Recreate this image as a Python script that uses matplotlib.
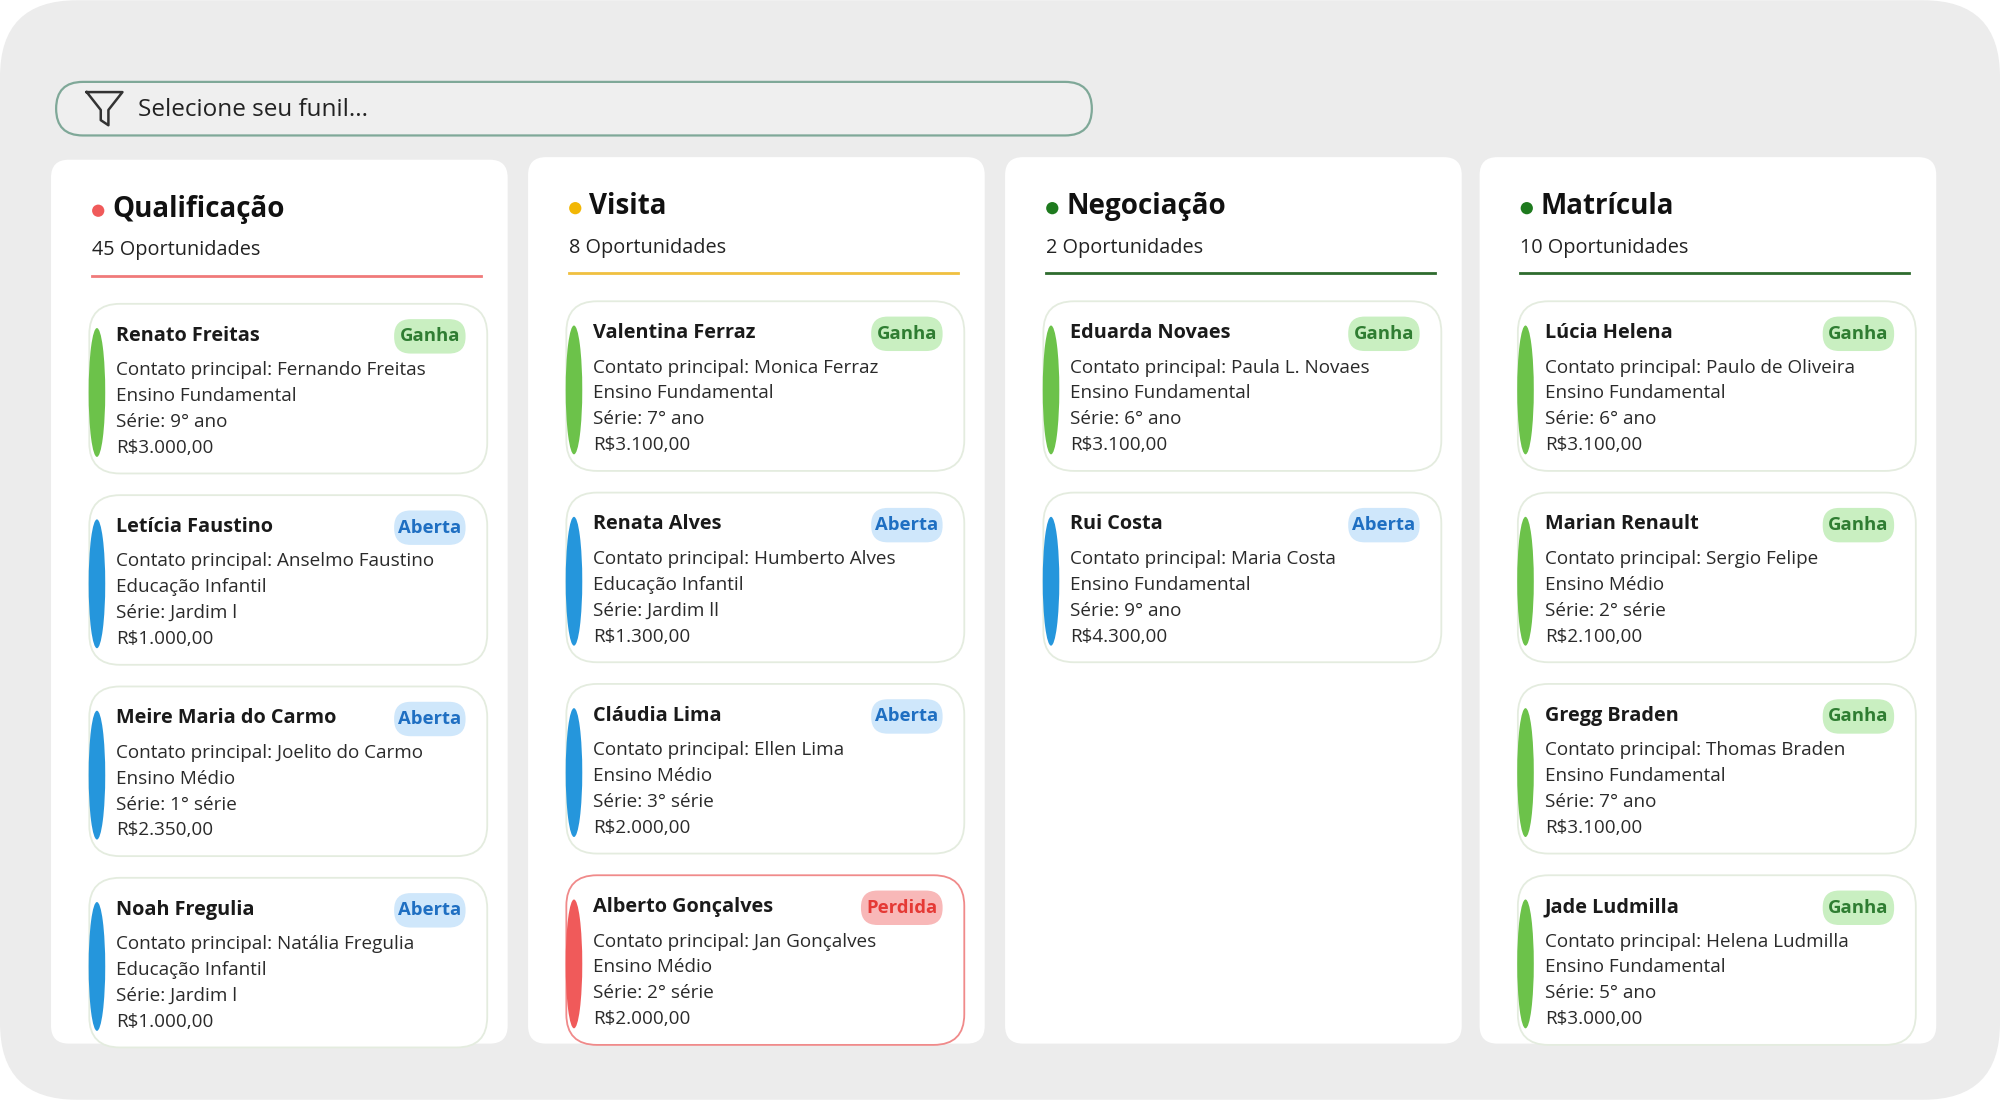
import matplotlib
matplotlib.use("Agg")
import matplotlib.pyplot as plt
from matplotlib.patches import FancyBboxPatch, Ellipse, Circle

plt.rcParams['font.family'] = ['Open Sans', 'DejaVu Sans']

W, H = 1568, 862

GREEN_BAR = "#6cc24a"
BLUE_BAR = "#2596dc"
RED_BAR = "#f05a5a"
BADGES = {
    "Ganha": ("#c9efc1", "#2f7d32", GREEN_BAR),
    "Aberta": ("#cfe7fb", "#1f6fc2", BLUE_BAR),
    "Perdida": ("#f8b8b8", "#e53935", RED_BAR),
}

columns = [
    {"title": "Qualificação", "dot": "#f05a5a", "line": "#f07a7a", "count": "45 Oportunidades",
     "cards": [
         ("Renato Freitas", "Fernando Freitas", "Ensino Fundamental", "9° ano", "R$3.000,00", "Ganha"),
         ("Letícia Faustino", "Anselmo Faustino", "Educação Infantil", "Jardim l", "R$1.000,00", "Aberta"),
         ("Meire Maria do Carmo", "Joelito do Carmo", "Ensino Médio", "1° série", "R$2.350,00", "Aberta"),
         ("Noah Fregulia", "Natália Fregulia", "Educação Infantil", "Jardim l", "R$1.000,00", "Aberta"),
     ]},
    {"title": "Visita", "dot": "#f2b705", "line": "#f0c040", "count": "8 Oportunidades",
     "cards": [
         ("Valentina Ferraz", "Monica Ferraz", "Ensino Fundamental", "7° ano", "R$3.100,00", "Ganha"),
         ("Renata Alves", "Humberto Alves", "Educação Infantil", "Jardim ll", "R$1.300,00", "Aberta"),
         ("Cláudia Lima", "Ellen Lima", "Ensino Médio", "3° série", "R$2.000,00", "Aberta"),
         ("Alberto Gonçalves", "Jan Gonçalves", "Ensino Médio", "2° série", "R$2.000,00", "Perdida"),
     ]},
    {"title": "Negociação", "dot": "#1e7a1e", "line": "#2e6b2e", "count": "2 Oportunidades",
     "cards": [
         ("Eduarda Novaes", "Paula L. Novaes", "Ensino Fundamental", "6° ano", "R$3.100,00", "Ganha"),
         ("Rui Costa", "Maria Costa", "Ensino Fundamental", "9° ano", "R$4.300,00", "Aberta"),
     ]},
    {"title": "Matrícula", "dot": "#1e7a1e", "line": "#2e6b2e", "count": "10 Oportunidades",
     "cards": [
         ("Lúcia Helena", "Paulo de Oliveira", "Ensino Fundamental", "6° ano", "R$3.100,00", "Ganha"),
         ("Marian Renault", "Sergio Felipe", "Ensino Médio", "2° série", "R$2.100,00", "Ganha"),
         ("Gregg Braden", "Thomas Braden", "Ensino Fundamental", "7° ano", "R$3.100,00", "Ganha"),
         ("Jade Ludmilla", "Helena Ludmilla", "Ensino Fundamental", "5° ano", "R$3.000,00", "Ganha"),
     ]},
]


def rbox(ax, x, y, w, h, r, fc, ec="none", lw=1.0, z=1):
    p = FancyBboxPatch((x, y), w, h, boxstyle=f"round,pad=0,rounding_size={r}",
                       fc=fc, ec=ec, lw=lw, zorder=z)
    ax.add_patch(p)


def draw_card(ax, x, y, card):
    name, contato, nivel, serie, valor, status = card
    w, h = 312, 133
    bfc, btc, bar = BADGES[status]
    ec = "#f08a8a" if status == "Perdida" else "#e4ecdf"
    rbox(ax, x, y, w, h, 24, "white", ec, 1.3, 3)
    ax.add_patch(Ellipse((x + 6, y + h / 2 + 3), 13, h - 32, fc=bar, ec="none", zorder=4))
    ax.text(x + 21, y + 25, name, fontsize=14.3, fontweight="bold", color="#1a1a1a",
            va="center", ha="left", zorder=5)
    bw = 56 if status != "Perdida" else 64
    rbox(ax, x + w - 17 - bw, y + 12, bw, 27, 13, bfc, z=4)
    ax.text(x + w - 17 - bw / 2, y + 25.5, status, fontsize=13.3, fontweight="bold",
            color=btc, ha="center", va="center", zorder=5)
    lines = [f"Contato principal: {contato}", nivel, f"Série: {serie}", valor]
    for i, t in enumerate(lines):
        ax.text(x + 21, y + 52 + i * 20.3, t, fontsize=13.6, color="#2a2a2a",
                va="center", ha="left", zorder=5)


fig = plt.figure(figsize=(20, 11), dpi=100)
ax = fig.add_axes([0, 0, 1, 1])
ax.set_xlim(0, W)
ax.set_ylim(H, 0)
ax.set_aspect("equal")
ax.axis("off")

rbox(ax, 0, 0, W, H, 60, "#ececec", z=0)

# search bar
rbox(ax, 44, 64, 812, 42, 21, "#efefef", "#7fa898", 1.6, 1)
fx, fy = 82, 85
ax.plot([fx - 14, fx + 14, fx + 3, fx + 3, fx - 3, fx - 3, fx - 14],
        [fy - 13, fy - 13, fy + 1, fy + 13, fy + 9, fy + 1, fy - 13],
        color="#333333", lw=1.8, zorder=2, solid_joinstyle="round")
ax.text(108, 86, "Selecione seu funil...", fontsize=17.5, color="#222222", va="center", ha="left")

col_x = [40, 414, 788, 1160]
col_top = [125, 123, 123, 123]
for ci, col in enumerate(columns):
    x0 = col_x[ci]
    y0 = col_top[ci]
    rbox(ax, x0, y0, 358, 818 - y0, 14, "white", z=1)
    ty = y0 + 39
    ax.add_patch(Circle((x0 + 37, ty + 1), 4.8, fc=col["dot"], ec="none", zorder=3))
    ax.text(x0 + 48, ty, col["title"], fontsize=20, fontweight="bold", color="#111111",
            va="center", ha="left", zorder=3)
    ax.text(x0 + 32, ty + 32, col["count"], fontsize=14.3, color="#222222", va="center",
            ha="left", zorder=3)
    ax.plot([x0 + 32, x0 + 337], [ty + 52, ty + 52], color=col["line"], lw=2, zorder=3)
    for k, card in enumerate(col["cards"]):
        draw_card(ax, x0 + 30, y0 + 113 + k * 150, card)

fig.savefig("out.png", dpi=100)
